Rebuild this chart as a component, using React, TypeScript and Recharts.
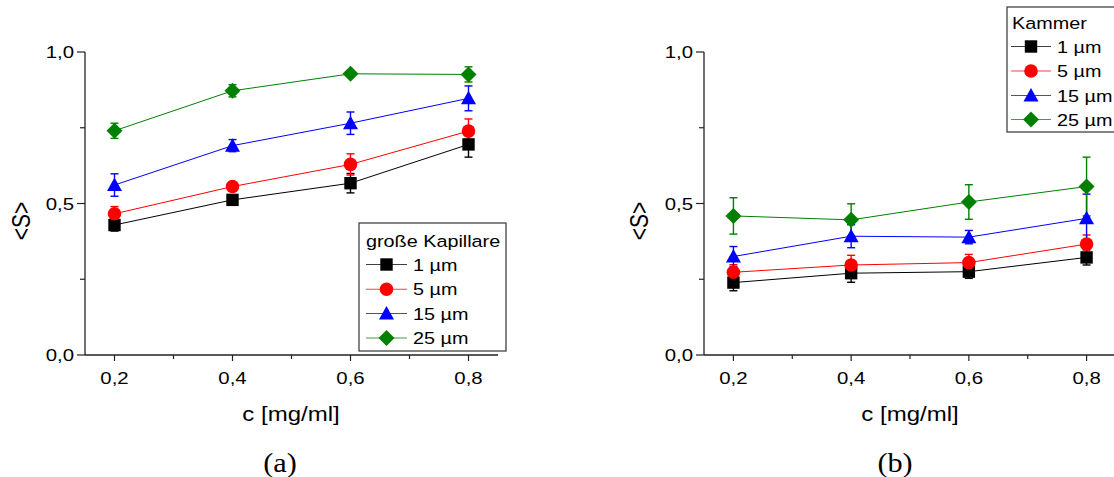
import { LineChart, Line, XAxis, YAxis, ErrorBar } from "recharts";

const conc = [0.2, 0.4, 0.6, 0.8];
const sizeNames = ["1 µm", "5 µm", "15 µm", "25 µm"];
const colors = ["#000000", "#ff0000", "#0000ff", "#008000"];
const shapes = ["square", "circle", "triangle", "diamond"];

// (a) große Kapillare
const kap1 = [0.429, 0.512, 0.567, 0.695];
const kap1Err = [0.02, 0.012, 0.032, 0.042];
const kap5 = [0.466, 0.556, 0.629, 0.739];
const kap5Err = [0.024, 0.014, 0.035, 0.04];
const kap15 = [0.561, 0.691, 0.765, 0.847];
const kap15Err = [0.037, 0.02, 0.037, 0.041];
const kap25 = [0.74, 0.872, 0.928, 0.926];
const kap25Err = [0.025, 0.02, 0.006, 0.025];

// (b) Kammer
const kam1 = [0.239, 0.27, 0.275, 0.322];
const kam1Err = [0.027, 0.03, 0.022, 0.025];
const kam5 = [0.273, 0.297, 0.305, 0.366];
const kam5Err = [0.025, 0.032, 0.027, 0.03];
const kam15 = [0.325, 0.392, 0.389, 0.451];
const kam15Err = [0.033, 0.038, 0.022, 0.08];
const kam25 = [0.459, 0.446, 0.505, 0.556];
const kam25Err = [0.06, 0.053, 0.057, 0.097];

const xTicks = [0.2, 0.3, 0.4, 0.5, 0.6, 0.7, 0.8];
const xMajor = [0.2, 0.4, 0.6, 0.8];
const yTicks = [0, 0.25, 0.5, 0.75, 1];
const yMajor = [0, 0.5, 1];

const SANS = "'Liberation Sans', Arial, sans-serif";
const SERIF = "'Liberation Serif', 'DejaVu Serif', serif";
const SX = 1.2; // the original figure is stretched sideways
const AXIS = "#222";
const H = 477;

const fmt = (v: number) => v.toFixed(1).replace(".", ",");
const isMajor = (list: number[], v: number) => list.some((m) => Math.abs(m - v) < 1e-6);

function buildRows(vals: number[][], errs: number[][]) {
  return conc.map((c, i) => {
    const row: any = { c };
    vals.forEach((s, k) => {
      row["s" + k] = s[i];
      row["e" + k] = errs[k][i];
    });
    return row;
  });
}

const rowsA = buildRows([kap1, kap5, kap15, kap25], [kap1Err, kap5Err, kap15Err, kap25Err]);
const rowsB = buildRows([kam1, kam5, kam15, kam25], [kam1Err, kam5Err, kam15Err, kam25Err]);

function marker(shape: string, color: string, cx: number, cy: number) {
  switch (shape) {
    case "square":
      return <rect x={cx - 6.2} y={cy - 6.2} width={12.4} height={12.4} fill={color} />;
    case "circle":
      return <circle cx={cx} cy={cy} r={6.8} fill={color} />;
    case "triangle":
      return (
        <polygon
          points={`${cx},${cy - 7.5} ${cx + 7.5},${cy + 6} ${cx - 7.5},${cy + 6}`}
          fill={color}
        />
      );
    default:
      return (
        <polygon
          points={`${cx},${cy - 8} ${cx + 8},${cy} ${cx},${cy + 8} ${cx - 8},${cy}`}
          fill={color}
        />
      );
  }
}

function WText({ x, y, size, anchor = "start", family = SANS, sx = SX, children }: any) {
  return (
    <text
      transform={`translate(${x},${y}) scale(${sx},1)`}
      fontSize={size}
      fontFamily={family}
      textAnchor={anchor}
      fill="#000"
    >
      {children}
    </text>
  );
}

function XTick({ x, y, payload }: any) {
  const major = isMajor(xMajor, payload.value);
  return (
    <g>
      <line x1={x} y1={y} x2={x} y2={y + (major ? 6 : 4)} stroke={AXIS} strokeWidth={1.2} />
      {major && (
        <WText x={x} y={y + 28.5} size={17} anchor="middle">
          {fmt(payload.value)}
        </WText>
      )}
    </g>
  );
}

function YTick({ x, y, payload }: any) {
  const major = isMajor(yMajor, payload.value);
  return (
    <g>
      <line x1={x - (major ? 8 : 5)} y1={y} x2={x} y2={y} stroke={AXIS} strokeWidth={1.2} />
      {major && (
        <WText x={x - 11} y={y + 6} size={17} anchor="end">
          {fmt(payload.value)}
        </WText>
      )}
    </g>
  );
}

function Panel({ left, width, axisW, right, rows }: any) {
  return (
    <div style={{ position: "absolute", left, top: 0 }}>
      <LineChart
        width={width}
        height={H}
        data={rows}
        margin={{ top: 52, right, left: 0, bottom: 0 }}
      >
        <XAxis
          dataKey="c"
          type="number"
          domain={[0.15, 0.85]}
          ticks={xTicks}
          interval={0}
          height={122}
          tickSize={0}
          tickMargin={0}
          tickLine={false}
          axisLine={{ stroke: AXIS, strokeWidth: 1.3 }}
          tick={<XTick />}
          allowDataOverflow
        />
        <YAxis
          type="number"
          domain={[0, 1]}
          ticks={yTicks}
          interval={0}
          width={axisW}
          tickSize={0}
          tickMargin={0}
          tickLine={false}
          axisLine={{ stroke: AXIS, strokeWidth: 1.3 }}
          tick={<YTick />}
          allowDataOverflow
        />
        {colors.map((col, k) => (
          <Line
            key={k}
            dataKey={"s" + k}
            stroke={col}
            strokeWidth={1}
            isAnimationActive={false}
            activeDot={false}
            dot={(p: any) => <g key={"d" + k + "-" + p.index}>{marker(shapes[k], col, p.cx, p.cy)}</g>}
          >
            <ErrorBar dataKey={"e" + k} width={4} stroke={col} strokeWidth={1.4} direction="y" />
          </Line>
        ))}
      </LineChart>
    </div>
  );
}

function LegendBox({ x, y, w, h, title, tx, lx1, lx2, rowY, titleY }: any) {
  return (
    <g>
      <rect x={x} y={y} width={w} height={h} fill="#fff" stroke="#333" strokeWidth={1.2} />
      <WText x={tx} y={titleY + 6} size={16.5}>
        {title}
      </WText>
      {sizeNames.map((n, k) => {
        const cy = rowY[k];
        const mx = (lx1 + lx2) / 2;
        return (
          <g key={n}>
            <line x1={lx1} y1={cy} x2={lx2} y2={cy} stroke={colors[k]} strokeWidth={1.1} opacity={0.75} />
            {marker(shapes[k], colors[k], mx, cy)}
            <WText x={lx2 + 6} y={cy + 6} size={16.5}>
              {n}
            </WText>
          </g>
        );
      })}
    </g>
  );
}

export default function App() {
  return (
    <div
      style={{
        position: "absolute",
        left: 0,
        top: 0,
        width: 1114,
        height: H,
        overflow: "hidden",
        background: "#fff",
      }}
    >
      <Panel left={0} width={560} axisW={85} right={62} rows={rowsA} />
      <Panel left={560} width={560} axisW={144} right={4} rows={rowsB} />
      <svg
        width={1114}
        height={H}
        style={{ position: "absolute", left: 0, top: 0, pointerEvents: "none" }}
      >
        <text
          transform={`translate(21,221) scale(${SX},1) rotate(-90)`}
          fontSize={21}
          fontFamily={SANS}
          textAnchor="middle"
          dominantBaseline="central"
        >
          {"<S>"}
        </text>
        <text
          transform={`translate(639,221) scale(${SX},1) rotate(-90)`}
          fontSize={21}
          fontFamily={SANS}
          textAnchor="middle"
          dominantBaseline="central"
        >
          {"<S>"}
        </text>
        <WText x={291} y={421} size={20} anchor="middle">
          c [mg/ml]
        </WText>
        <WText x={910} y={421} size={20} anchor="middle">
          c [mg/ml]
        </WText>
        <WText x={280} y={472} size={28} sx={1.08} anchor="middle" family={SERIF}>
          (a)
        </WText>
        <WText x={895} y={472} size={28} sx={1.08} anchor="middle" family={SERIF}>
          (b)
        </WText>
        <LegendBox
          x={359}
          y={223}
          w={147}
          h={128}
          title="große Kapillare"
          tx={366}
          titleY={241}
          lx1={366}
          lx2={407}
          rowY={[264.5, 289.3, 313.5, 338]}
        />
        <LegendBox
          x={1007}
          y={7}
          w={120}
          h={125}
          title="Kammer"
          tx={1012}
          titleY={23}
          lx1={1011}
          lx2={1051}
          rowY={[46.5, 71, 95.5, 119.5]}
        />
      </svg>
    </div>
  );
}
